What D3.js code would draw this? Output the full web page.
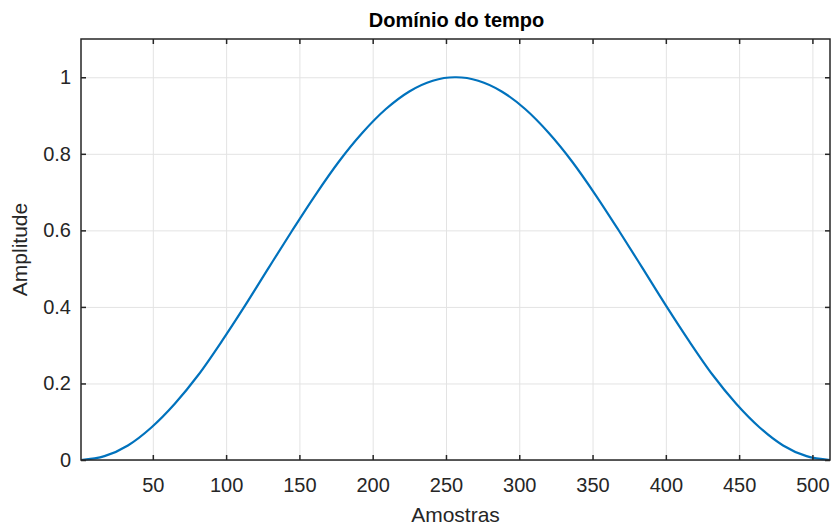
<!DOCTYPE html>
<html>
<head>
<meta charset="utf-8">
<script src="https://cdn.jsdelivr.net/npm/d3@7"></script>
<style>
  body { margin: 0; background: #fff; }
  svg text { font-family: "Liberation Sans", Arial, sans-serif; fill: #262626; }
  .grid line { stroke: #e3e3e3; stroke-width: 1; }
  .grid path { display: none; }
  .axis path { display: none; }
  .axis line { stroke: #262626; stroke-width: 1.5; }
</style>
</head>
<body>
<div id="chart"></div>
<script>
// sample index (x) and amplitude
const samples = [1, 17, 33, 49, 65, 81, 97, 113, 129, 145, 161, 177, 193, 209, 225, 241, 256,
                 257, 272, 288, 304, 320, 336, 352, 368, 384, 400, 416, 432, 448, 464, 480, 496, 512];
const amplitude = [0, 0.010, 0.038, 0.085, 0.147, 0.222, 0.310, 0.404, 0.502, 0.599, 0.693, 0.780, 0.855, 0.917, 0.963, 0.991, 1.000,
                   1.000, 0.991, 0.963, 0.917, 0.855, 0.780, 0.693, 0.599, 0.502, 0.404, 0.310, 0.222, 0.147, 0.085, 0.038, 0.010, 0];

const xTicks = [50, 100, 150, 200, 250, 300, 350, 400, 450, 500];
const yTicks = [0, 0.2, 0.4, 0.6, 0.8, 1];

const width = 833, height = 528;
const margin = { top: 39, right: 3, bottom: 68, left: 81 };
const w = width - margin.left - margin.right;
const h = height - margin.top - margin.bottom;

const svg = d3.select('#chart').append('svg')
    .attr('width', width)
    .attr('height', height);

const g = svg.append('g').attr('transform', `translate(${margin.left},${margin.top})`);

const x = d3.scaleLinear().domain([1, 512]).range([0, w]);
const y = d3.scaleLinear().domain([0, 1.1]).range([h, 0]);

// grid
g.append('g').attr('class', 'grid')
    .call(d3.axisBottom(x).tickValues(xTicks).tickSize(h).tickFormat(''));
g.append('g').attr('class', 'grid')
    .call(d3.axisLeft(y).tickValues(yTicks).tickSize(-w).tickFormat(''));

// curve
const data = samples.map((s, i) => ({ s, a: amplitude[i] }));
g.append('path')
    .datum(data)
    .attr('fill', 'none')
    .attr('stroke', '#0072BD')
    .attr('stroke-width', 2.2)
    .attr('d', d3.line().x(d => x(d.s)).y(d => y(d.a)).curve(d3.curveMonotoneX));

// axes, ticks pointing inward
const xAxis = g.append('g').attr('class', 'axis')
    .attr('transform', `translate(0,${h})`)
    .call(d3.axisBottom(x).tickValues(xTicks).tickSize(-5).tickPadding(18).tickFormat(d3.format('d')));
xAxis.selectAll('text').style('font-size', '20px');

const yAxis = g.append('g').attr('class', 'axis')
    .call(d3.axisLeft(y).tickValues(yTicks).tickSize(-5).tickPadding(10).tickFormat(d => d === 0 || d === 1 ? d : d3.format('.1f')(d)));
yAxis.selectAll('text').style('font-size', '20px');

g.append('g').attr('class', 'axis')
    .call(d3.axisTop(x).tickValues(xTicks).tickSize(-5).tickFormat(''));
g.append('g').attr('class', 'axis')
    .attr('transform', `translate(${w},0)`)
    .call(d3.axisRight(y).tickValues(yTicks).tickSize(-5).tickFormat(''));

// box
g.append('rect')
    .attr('width', w).attr('height', h)
    .attr('fill', 'none')
    .attr('stroke', '#262626')
    .attr('stroke-width', 1.5);

// title and labels
svg.append('text')
    .attr('x', margin.left + w / 2 + 1)
    .attr('y', 27)
    .attr('text-anchor', 'middle')
    .style('font-size', '20px')
    .style('font-weight', 'bold')
    .style('fill', '#000')
    .text('Domínio do tempo');

svg.append('text')
    .attr('x', margin.left + w / 2)
    .attr('y', 522)
    .attr('text-anchor', 'middle')
    .style('font-size', '21px')
    .text('Amostras');

svg.append('text')
    .attr('transform', `translate(27,${margin.top + h / 2}) rotate(-90)`)
    .attr('text-anchor', 'middle')
    .style('font-size', '21px')
    .text('Amplitude');
</script>
</body>
</html>
